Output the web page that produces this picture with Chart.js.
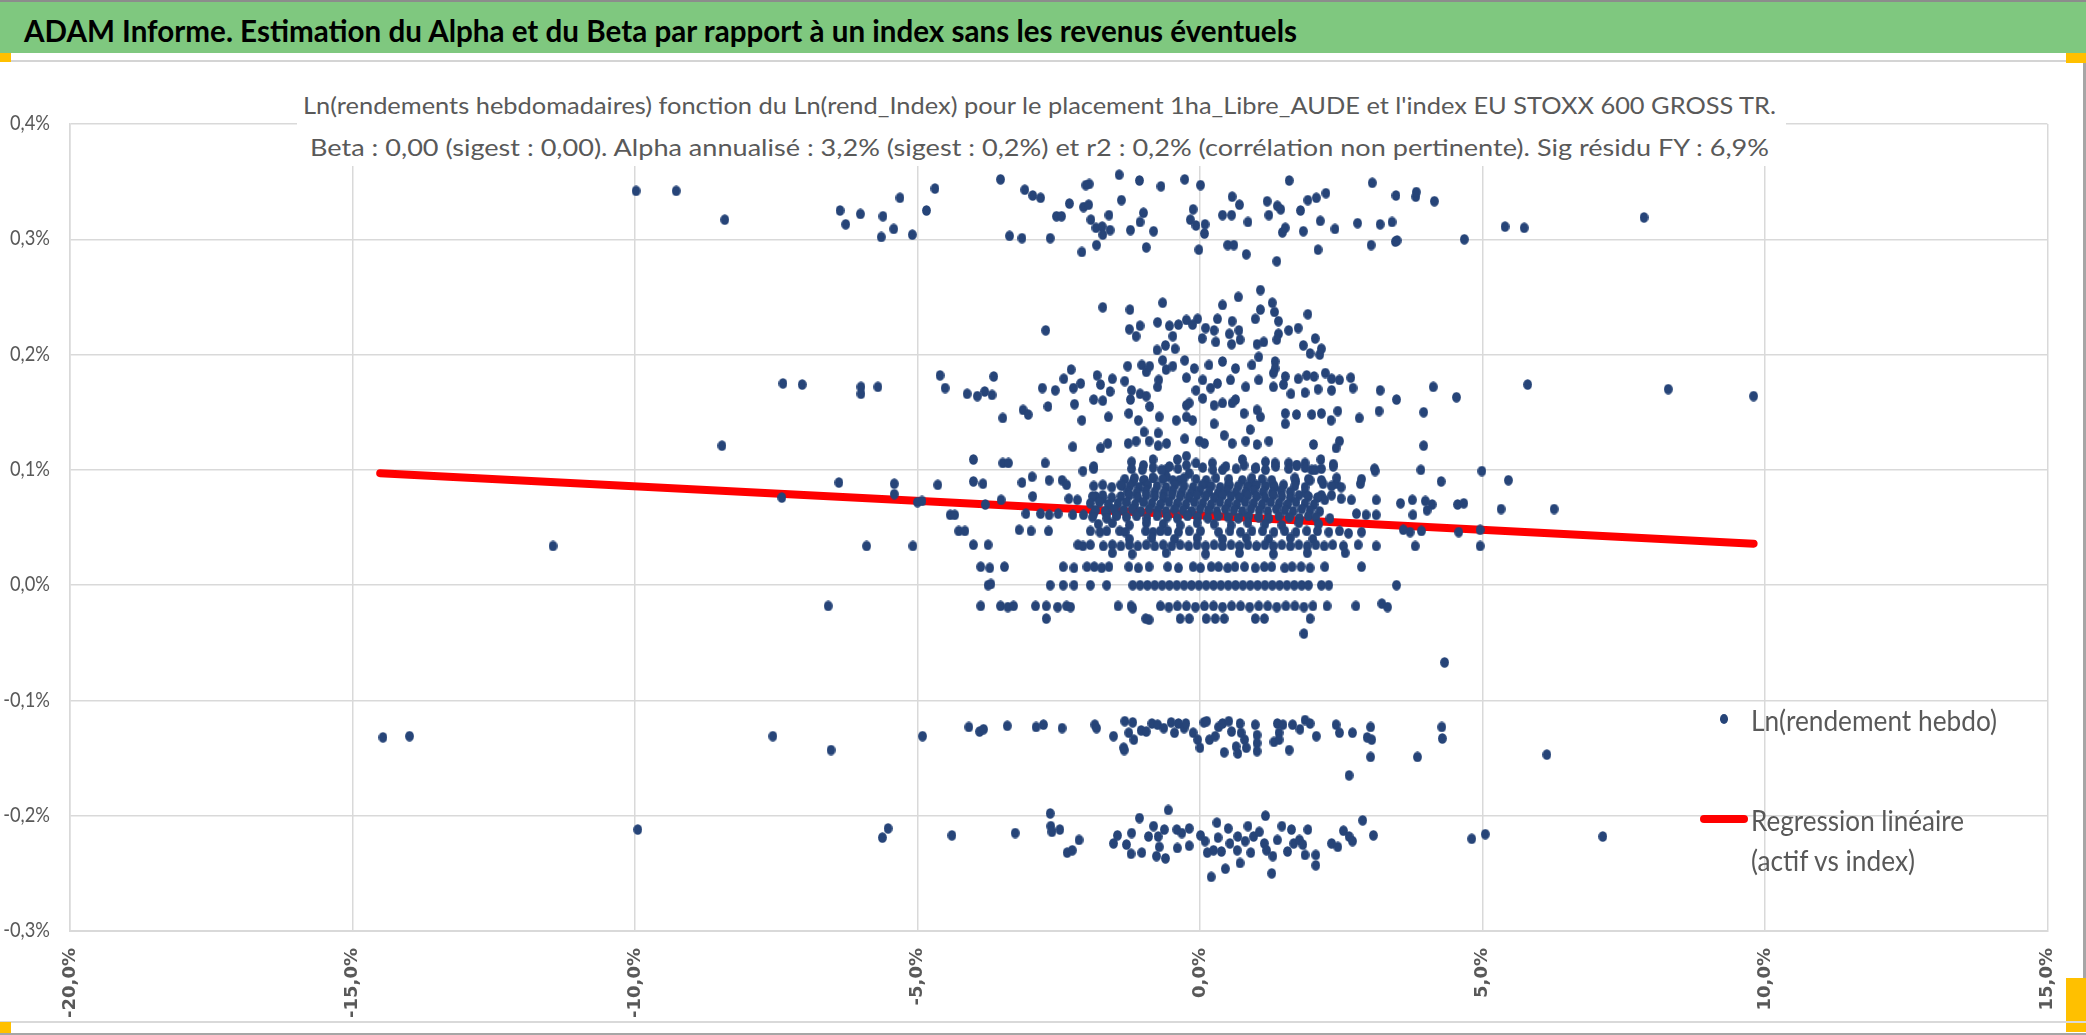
<!DOCTYPE html>
<html><head><meta charset="utf-8">
<script src="https://cdn.jsdelivr.net/npm/chart.js@4.4.1/dist/chart.umd.min.js"></script>
<style>
html,body{margin:0;padding:0;background:#fff;}
body{width:2086px;height:1035px;position:relative;overflow:hidden;font-family:Lato,'Liberation Sans',sans-serif;}
.abs{position:absolute;}
#cv{position:absolute;left:0;top:0;z-index:1;}
.txt{position:absolute;white-space:nowrap;line-height:1;transform-origin:left top;z-index:3;}
#title{left:24px;top:15px;font-size:31px;font-weight:bold;color:#000;}
.sub{font-size:23px;color:#595959;}
.leg{font-size:29px;color:#595959;}
</style></head>
<body>
<div class="abs" style="left:0;top:0;width:2086px;height:2px;background:#8c8c8c;z-index:2"></div>
<div class="abs" style="left:0;top:2px;width:2086px;height:51px;background:#7fc87f;z-index:2"></div>
<div class="abs" style="left:0;top:60px;width:2086px;height:2px;background:#d4d4d4;z-index:0"></div>
<div class="abs" style="left:0;top:53px;width:11px;height:9px;background:#ffc000;z-index:2"></div>
<div class="abs" style="left:2066px;top:53px;width:20px;height:10px;background:#ffc000;z-index:2"></div>
<div class="abs" style="left:2083px;top:62px;width:3px;height:916px;background:#a6a6a6;z-index:0"></div>
<div class="abs" style="left:2066px;top:978px;width:20px;height:54px;background:#ffc000;z-index:0"></div>
<div class="abs" style="left:0;top:1021px;width:2086px;height:2px;background:#d9d9d9;z-index:0"></div>
<div class="abs" style="left:0;top:1022px;width:11px;height:11px;background:#ffc000;z-index:0"></div>
<div class="abs" style="left:0;top:1033px;width:2086px;height:2px;background:#a6a6a6;z-index:0"></div>
<div id="title" class="txt">ADAM Informe. Estimation du Alpha et du Beta par rapport à un index sans les revenus éventuels</div>
<div class="abs" style="left:297px;top:80px;width:1489px;height:86px;background:#fff;z-index:2"></div>
<div id="sub1" class="txt sub" style="left:303px;top:94px">Ln(rendements hebdomadaires) fonction du Ln(rend_Index) pour le placement 1ha_Libre_AUDE et l'index EU STOXX 600 GROSS TR.</div>
<div id="sub2" class="txt sub" style="left:310px;top:136px">Beta : 0,00 (sigest : 0,00). Alpha annualisé : 3,2% (sigest : 0,2%) et r2 : 0,2% (corrélation non pertinente). Sig résidu FY : 6,9%</div>
<div class="abs" style="left:1719.7px;top:713.8px;width:8.6px;height:10.4px;border-radius:50%;background:#264478;z-index:3"></div>
<div class="abs" style="left:1700px;top:815px;width:48px;height:8px;border-radius:4px;background:#ff0000;z-index:3"></div>
<div id="leg1" class="txt leg" style="left:1751px;top:705px">Ln(rendement hebdo)</div>
<div id="leg2" class="txt leg" style="left:1751px;top:805px">Regression linéaire</div>
<div id="leg3" class="txt leg" style="left:1751px;top:845px">(actif vs index)</div>
<canvas id="cv" width="2086" height="1035"></canvas>
<script>
// ---- data (x = Ln(rend_Index) %, y = Ln(rendement hebdo) %) ----
const topBand = [[-9.98,0.342],[-9.27,0.342],[-8.41,0.317],[-6.37,0.325],[-6.27,0.313],[-6.01,0.322],[-5.61,0.320],[-5.64,0.302],[-5.42,0.309],[-5.31,0.336],[-5.09,0.304],[-4.84,0.325],[-4.69,0.344],
[-3.53,0.352],[-3.10,0.343],[-2.96,0.338],[-2.82,0.336],[-3.37,0.303],[-3.15,0.301],[-2.65,0.301],[-2.31,0.331],[-2.54,0.320],[-2.45,0.320],[-2.02,0.347],[-1.96,0.348],[-2.06,0.328],[-1.97,0.330],[-1.93,0.317],[-1.84,0.310],[-1.73,0.311],[-1.61,0.321],[-1.59,0.308],[-1.72,0.304],[-2.09,0.289],[-1.83,0.295],[-1.43,0.356],[-1.39,0.334],[-1.23,0.308],[-1.07,0.351],[-1.06,0.315],[-1.00,0.323],[-0.82,0.307],[-0.95,0.293],[-0.69,0.346],[-0.27,0.352],[-0.17,0.317],[0.09,0.313],
[0.01,0.347],[-0.12,0.326],[-0.07,0.312],[0.08,0.305],[-0.02,0.291],[0.40,0.321],[0.57,0.337],[0.70,0.330],[0.56,0.321],[0.49,0.295],[0.60,0.295],[0.85,0.315],[0.82,0.287],[1.19,0.333],[1.22,0.321],[1.37,0.329],[1.43,0.326],[1.58,0.351],[1.36,0.281],[1.46,0.306],[1.51,0.310],[1.78,0.325],[1.83,0.307],[1.91,0.334],[2.06,0.336],[2.23,0.340],[2.13,0.316],[2.09,0.291],[2.39,0.309],[2.79,0.314],[3.05,0.349],[3.19,0.313],[3.03,0.295],[3.40,0.315],[3.47,0.338],[3.82,0.337],[3.83,0.341],[3.46,0.298],[3.49,0.299],[4.15,0.333],[4.68,0.300],[5.40,0.311],[5.74,0.310],[7.86,0.319]];

const upperCloud = [[-7.38,0.175],[-7.04,0.174],[-6.00,0.172],[-6.00,0.166],[-5.70,0.172],[-8.46,0.121],
[-1.72,0.241],[-1.24,0.239],[-0.66,0.245],[-2.73,0.221],[-1.25,0.222],[-1.13,0.216],[-1.06,0.225],[-0.75,0.228],[-0.54,0.225],[-0.48,0.216],[-0.38,0.226],[-0.24,0.230],[-0.76,0.204],[-0.61,0.208],[-0.44,0.205],
[-4.60,0.182],[-4.51,0.171],[-4.12,0.166],[-3.94,0.164],[-3.81,0.168],[-3.68,0.165],[-3.65,0.181],[-3.49,0.145],[-3.13,0.152],[-3.04,0.148],[-2.79,0.171],[-2.69,0.155],[-2.56,0.169],[-2.41,0.179],[-2.28,0.187],[-2.24,0.171],[-2.22,0.157],[-2.09,0.143],[-2.11,0.175],[-1.82,0.182],[-1.76,0.174],[-1.88,0.161],[-1.72,0.160],[-1.55,0.179],[-1.59,0.168],[-1.62,0.146],[-1.33,0.177],[-1.28,0.190],[-1.21,0.169],[-1.23,0.161],[-1.06,0.166],[-0.95,0.164],[-1.03,0.191],[-0.95,0.185],[-0.89,0.190],[-0.75,0.172],[-0.73,0.178],[-0.66,0.195],[-0.60,0.187],[-0.48,0.190],[-0.27,0.195],[-0.24,0.180],
[-1.26,0.149],[-1.09,0.143],[-0.89,0.155],[-0.72,0.146],[-0.42,0.143],[-0.24,0.156],[-0.24,0.146],
[-4.01,0.109],[-3.49,0.106],[-3.39,0.106],[-2.74,0.106],[-2.25,0.120],[-1.76,0.119],[-1.63,0.123],[-1.27,0.123],[-1.13,0.125],[-0.99,0.133],[-0.90,0.125],[-0.74,0.132],[-0.59,0.123],[-0.74,0.121],[-0.27,0.127],
[-1.21,0.107],[-1.02,0.100],[-0.83,0.109],[-0.61,0.100],[-0.40,0.109],[-0.24,0.112],[-2.07,0.099],[-1.88,0.101],
[1.07,0.256],[0.68,0.250],[0.40,0.243],[1.28,0.245],[1.32,0.237],[1.07,0.239],[1.91,0.235],[0.98,0.231],[1.39,0.229],[0.31,0.231],[0.57,0.229],[-0.04,0.231],[-0.13,0.226],[0.10,0.223],[0.25,0.221],[0.52,0.218],[0.69,0.221],[1.57,0.221],[1.74,0.223],[1.39,0.218],[0.04,0.214],[0.28,0.211],[0.56,0.209],[0.71,0.213],[1.01,0.209],[1.13,0.211],[1.36,0.213],[2.04,0.214],[1.83,0.208],[1.95,0.201],[2.12,0.200],[2.15,0.205],[1.04,0.198],[0.92,0.191],[0.16,0.191],[0.40,0.194],[0.63,0.188],[1.33,0.194],[1.33,0.188],[-0.10,0.188],[0.05,0.178],[0.31,0.175],[-0.07,0.169],[0.19,0.171],[0.54,0.178],[0.81,0.172],[1.04,0.178],[1.30,0.184],[1.51,0.181],[1.74,0.179],[1.89,0.182],[2.02,0.181],[2.22,0.184],[2.33,0.179],[2.47,0.178],[2.67,0.180],[1.30,0.172],[1.48,0.174],[1.61,0.166],[1.86,0.167],[2.09,0.170],[2.33,0.169],[2.71,0.171],[3.19,0.169],[3.48,0.161],[4.13,0.172],[4.54,0.163],
[-0.19,0.158],[0.05,0.162],[0.25,0.156],[0.40,0.158],[0.63,0.161],[0.78,0.149],[1.01,0.152],[1.07,0.146],[1.51,0.149],[1.71,0.148],[1.98,0.148],[2.15,0.149],[2.44,0.151],[2.82,0.145],[3.17,0.151],[3.96,0.150],[-0.13,0.143],[0.25,0.140],[0.57,0.158],[0.89,0.135],[1.51,0.140],[2.32,0.143],
[-0.01,0.125],[0.08,0.123],[0.43,0.130],[0.57,0.123],[0.81,0.125],[1.01,0.122],[1.22,0.125],[2.01,0.122],[2.47,0.125],[2.41,0.119],[3.96,0.121],
[-0.07,0.106],[0.22,0.106],[0.40,0.100],[0.75,0.109],[0.98,0.101],[1.16,0.107],[1.33,0.106],[1.57,0.106],[1.71,0.104],[1.86,0.106],[1.98,0.100],[2.14,0.109],[2.36,0.105],[2.15,0.101],[3.10,0.099],[3.91,0.100],[4.99,0.099],
[5.80,0.174],[8.29,0.170],[9.80,0.164]];

const midBand = [[-6.39,0.089],[-7.40,0.076],[-5.41,0.088],[-5.41,0.079],[-5.00,0.072],
[-4.64,0.087],[-4.01,0.090],[-3.84,0.088],[-3.15,0.089],[-2.97,0.094],[-2.67,0.091],[-2.44,0.091],[-2.36,0.087],[-1.38,0.086],[-1.18,0.090],[-1.00,0.091],[-0.83,0.093],[-0.59,0.094],[-0.36,0.091],[-0.19,0.097],
[-4.92,0.073],[-3.52,0.074],[-3.80,0.070],[-2.96,0.077],[-2.32,0.075],[-2.17,0.074],[-1.85,0.077],[-1.72,0.075],
[-4.42,0.061],[-4.34,0.061],[-3.08,0.062],[-2.82,0.062],[-2.67,0.061],[-2.51,0.062],[-2.25,0.061],[-2.06,0.061],[-1.88,0.062],[-1.65,0.062],[-1.47,0.061],
[0.10,0.088],[0.50,0.087],[0.90,0.089],[1.30,0.087],[1.70,0.090],[2.18,0.088],[1.95,0.091],[2.41,0.088],[2.84,0.088],[4.27,0.090],[5.46,0.091],
[1.86,0.080],[2.15,0.078],[2.33,0.078],[2.50,0.075],[2.68,0.074],[2.21,0.074],[3.12,0.074],[3.55,0.071],[3.76,0.074],[3.99,0.073],[4.11,0.070],[4.56,0.070],[4.67,0.071],[2.77,0.062],[2.94,0.061],[3.12,0.061],[3.77,0.061],[4.02,0.065],[5.33,0.066],[6.27,0.066]];

const denseCore = [[-1.88,0.103],[-1.21,0.101],[-1.00,0.104],[-0.83,0.102],[-0.68,0.100],[-0.54,0.103],[-0.39,0.101],[-0.24,0.104],[0.05,0.102],[0.23,0.100],[0.46,0.103],[0.64,0.101],[0.78,0.104],[0.99,0.102],[1.16,0.100],[1.34,0.103],[1.57,0.101],[1.72,0.104],[1.86,0.102],[2.04,0.100],[2.36,0.103],[3.09,0.101],
[-1.33,0.092],[-1.16,0.093],[-0.98,0.091],[-0.83,0.093],[-0.66,0.092],[-0.48,0.091],[-0.28,0.093],[-0.07,0.092],[0.11,0.091],[0.28,0.093],[0.51,0.092],[0.75,0.091],[0.92,0.093],[1.10,0.092],[1.27,0.091],[1.68,0.093],[1.92,0.092],[2.15,0.091],[2.42,0.093],[2.86,0.092],
[-1.88,0.086],[-1.72,0.087],[-1.56,0.085],[-1.40,0.087],[-1.24,0.086],[-1.08,0.085],[-0.92,0.087],[-0.76,0.086],[-0.60,0.085],[-0.44,0.087],[-0.28,0.086],[-0.12,0.085],[0.04,0.087],[0.20,0.086],[0.36,0.085],[0.52,0.087],[0.68,0.086],[0.84,0.085],[1.00,0.087],[1.16,0.086],[1.32,0.085],[1.48,0.087],[1.68,0.086],[1.86,0.085],[2.33,0.086],[2.50,0.085],
[-1.28,0.081],[-1.12,0.080],[-0.96,0.082],[-0.80,0.081],[-0.64,0.080],[-0.48,0.082],[-0.32,0.081],[-0.16,0.080],[0.00,0.082],[0.16,0.081],[0.32,0.080],[0.48,0.082],[0.64,0.081],[0.80,0.080],[0.96,0.082],[1.12,0.081],[1.28,0.080],[1.44,0.082],[1.60,0.081],
[-1.90,0.077],[-1.72,0.078],[-1.56,0.076],[-1.40,0.077],[-1.25,0.078],[-1.10,0.076],[-0.95,0.078],[-0.80,0.077],[-0.65,0.076],[-0.50,0.078],[-0.35,0.077],[-0.20,0.076],[-0.05,0.078],[0.10,0.077],[0.25,0.076],[0.40,0.078],[0.55,0.077],[0.70,0.076],[0.85,0.078],[1.00,0.077],[1.15,0.076],[1.30,0.078],[1.45,0.077],[1.60,0.076],[1.75,0.078],[1.92,0.077],[2.08,0.076],
[-1.94,0.071],[-1.78,0.072],[-1.62,0.070],[-1.45,0.071],[-1.30,0.072],[-1.15,0.070],[-1.00,0.072],[-0.85,0.071],[-0.70,0.070],[-0.55,0.072],[-0.40,0.071],[-0.25,0.070],[-0.10,0.072],[0.05,0.071],[0.20,0.070],[0.35,0.072],[0.50,0.071],[0.65,0.070],[0.80,0.072],[0.95,0.071],[1.10,0.070],[1.25,0.072],[1.40,0.071],[1.55,0.070],[1.70,0.072],[1.86,0.071],[2.02,0.070],
[-1.85,0.065],[-1.68,0.064],[-1.52,0.066],[-1.35,0.065],[-1.20,0.066],[-1.05,0.064],[-0.90,0.066],[-0.75,0.065],[-0.60,0.064],[-0.45,0.066],[-0.30,0.065],[-0.15,0.064],[0.00,0.066],[0.15,0.065],[0.30,0.064],[0.45,0.066],[0.60,0.065],[0.75,0.064],[0.90,0.066],[1.05,0.065],[1.20,0.064],[1.35,0.066],[1.50,0.065],[1.65,0.064],[1.80,0.066],[1.95,0.065],[2.12,0.064],
[-1.90,0.059],[-1.65,0.058],[-1.48,0.060],[-1.30,0.059],[-1.12,0.060],[-0.94,0.058],[-0.76,0.060],[-0.58,0.059],[-0.40,0.058],[-0.22,0.060],[-0.04,0.059],[0.14,0.058],[0.32,0.060],[0.50,0.059],[0.68,0.058],[0.86,0.060],[1.04,0.059],[1.22,0.058],[1.40,0.060],[1.58,0.059],[1.76,0.058],[1.92,0.060],[2.05,0.059],[2.30,0.058],
[-1.80,0.053],[-1.55,0.054],[-1.25,0.052],[-0.95,0.054],[-0.65,0.053],[-0.35,0.052],[-0.05,0.054],[0.25,0.053],[0.55,0.052],[0.85,0.054],[1.15,0.053],[1.45,0.052],[1.75,0.054],[2.10,0.053]];

const lowRows = [[-4.27,0.047],[-4.16,0.047],[-3.20,0.048],[-2.99,0.047],[-2.68,0.047],[-1.94,0.047],[-1.77,0.046],[-1.65,0.047],[-1.42,0.047],[-1.32,0.046],[-0.96,0.047],[-0.83,0.046],[-0.70,0.047],[-0.57,0.047],[-0.38,0.046],[-0.19,0.047],[0.01,0.047],[0.33,0.046],[0.53,0.047],[0.72,0.046],[0.92,0.047],[1.11,0.047],[1.31,0.046],[1.50,0.047],[1.70,0.046],[1.89,0.047],[2.08,0.047],[2.28,0.046],[2.47,0.047],[2.63,0.045],[2.86,0.046],[3.60,0.048],[3.72,0.046],[3.92,0.047],[4.58,0.046],[4.96,0.048],
[-1.25,0.040],[-0.85,0.041],[-0.45,0.040],[-0.05,0.041],[0.40,0.040],[0.82,0.041],[1.22,0.040],[1.60,0.041],[2.00,0.040],
[-4.01,0.035],[-3.75,0.035],[-2.16,0.035],[-2.07,0.034],[-1.94,0.035],[-1.71,0.034],[-1.55,0.035],[-1.40,0.034],[-1.25,0.035],[-1.10,0.034],[-0.95,0.035],[-0.80,0.034],[-0.65,0.035],[-0.50,0.034],[-0.35,0.035],[-0.20,0.034],[-0.05,0.035],[0.10,0.034],[0.25,0.035],[0.40,0.034],[0.55,0.035],[0.70,0.034],[0.85,0.035],[1.00,0.034],[1.15,0.035],[1.30,0.034],[1.45,0.035],[1.60,0.034],[1.75,0.035],[1.90,0.034],[2.05,0.035],[2.20,0.034],[2.35,0.035],[2.54,0.034],[2.80,0.035],[3.12,0.034],[3.81,0.034],[4.96,0.034],
[-1.55,0.028],[-1.20,0.027],[-0.60,0.028],[0.10,0.027],[0.70,0.028],[1.30,0.027],[1.90,0.028],[2.57,0.028],
[-3.88,0.016],[-3.72,0.015],[-3.46,0.016],[-2.42,0.016],[-2.23,0.015],[-2.00,0.016],[-1.87,0.016],[-1.74,0.015],[-1.61,0.016],[-1.26,0.016],[-1.09,0.015],[-0.90,0.016],[-0.57,0.016],[-0.38,0.015],[-0.12,0.016],[0.01,0.015],[0.20,0.016],[0.33,0.016],[0.49,0.015],[0.62,0.016],[0.79,0.016],[0.98,0.015],[1.14,0.016],[1.27,0.016],[1.50,0.015],[1.63,0.016],[1.79,0.016],[1.95,0.015],[2.21,0.016],[2.86,0.016],
[-3.75,0.000],[-3.70,0.001],[-2.65,0.000],[-2.42,0.000],[-2.23,0.000],[-1.94,0.000],[-1.65,0.000],[-1.19,0.000],[-1.06,0.000],[-0.93,0.000],[-0.80,0.000],[-0.67,0.000],[-0.54,0.000],[-0.41,0.000],[-0.28,0.000],[-0.15,0.000],[-0.02,0.000],[0.11,0.000],[0.24,0.000],[0.37,0.000],[0.50,0.000],[0.63,0.000],[0.76,0.000],[0.89,0.000],[1.02,0.000],[1.15,0.000],[1.28,0.000],[1.41,0.000],[1.54,0.000],[1.67,0.000],[1.80,0.000],[1.92,0.000],[2.15,0.000],[2.28,0.000],[3.48,0.000],
[-3.88,-0.018],[-3.53,-0.018],[-3.40,-0.019],[-3.30,-0.018],[-2.91,-0.018],[-2.72,-0.018],[-2.52,-0.019],[-2.36,-0.018],[-2.29,-0.019],[-1.45,-0.018],[-1.22,-0.018],[-1.19,-0.020],[-0.70,-0.018],[-0.55,-0.019],[-0.40,-0.018],[-0.24,-0.018],[-0.08,-0.019],[0.08,-0.018],[0.24,-0.018],[0.40,-0.019],[0.56,-0.018],[0.72,-0.018],[0.88,-0.019],[1.04,-0.018],[1.20,-0.018],[1.36,-0.019],[1.52,-0.018],[1.68,-0.018],[1.84,-0.019],[2.00,-0.018],[2.25,-0.018],[2.76,-0.018],[3.22,-0.016],[3.32,-0.019],
[-2.72,-0.029],[-0.96,-0.029],[-0.90,-0.030],[-0.35,-0.029],[-0.19,-0.029],[0.11,-0.029],[0.27,-0.029],[0.43,-0.029],[0.98,-0.029],[1.14,-0.029],[1.95,-0.029],
[1.84,-0.042],[4.33,-0.067],[-11.45,0.034],[-5.90,0.034],[-5.08,0.034],[-6.58,-0.018]];

const negBandA = [[-14.46,-0.132],[-13.99,-0.131],[-7.56,-0.131],[-6.53,-0.143],[-4.91,-0.131],
[-4.09,-0.123],[-3.90,-0.127],[-3.83,-0.125],[-3.41,-0.122],[-2.90,-0.123],[-2.77,-0.121],[-2.44,-0.124],[-1.86,-0.121],[-1.83,-0.124],[-1.53,-0.131],[-1.33,-0.118],[-1.19,-0.119],[-1.26,-0.128],[-1.17,-0.134],[-1.35,-0.141],[-1.34,-0.143],[-1.04,-0.126],[-0.95,-0.127],[-0.85,-0.120],[-0.75,-0.121],[-0.64,-0.124],[-0.51,-0.119],[-0.45,-0.128],[-0.38,-0.120],[-0.28,-0.124],[-0.25,-0.120],[-0.12,-0.128],[-0.04,-0.134],[0.00,-0.141],[0.07,-0.119],[0.12,-0.118],[0.17,-0.134],[0.27,-0.131],[0.33,-0.123],[0.40,-0.120],[0.43,-0.145],[0.51,-0.118],[0.56,-0.127],[0.64,-0.140],[0.67,-0.146],[0.71,-0.120],[0.73,-0.128],[0.79,-0.134],[0.82,-0.141],[0.98,-0.121],[1.01,-0.130],[1.01,-0.137],[1.01,-0.144],[1.31,-0.136],[1.37,-0.120],[1.40,-0.128],[1.47,-0.121],[1.40,-0.134],[1.58,-0.143],[1.64,-0.121],[1.77,-0.125],[1.86,-0.117],[1.95,-0.120],[2.06,-0.131],[2.41,-0.121],[2.47,-0.128],[2.70,-0.128],[2.64,-0.165],[2.96,-0.132],[3.02,-0.123],[3.04,-0.134],[3.02,-0.149],[3.85,-0.149],[4.28,-0.123],[4.29,-0.133],[6.14,-0.147]];

const negBandB = [[-9.95,-0.212],[-5.62,-0.219],[-5.52,-0.211],
[-4.39,-0.217],[-3.27,-0.215],[-2.65,-0.198],[-2.64,-0.209],[-2.62,-0.214],[-2.48,-0.212],[-2.35,-0.232],[-2.26,-0.230],[-2.14,-0.221],[-1.53,-0.224],[-1.46,-0.217],[-1.30,-0.225],[-1.22,-0.233],[-1.21,-0.215],[-1.07,-0.202],[-1.03,-0.232],[-0.91,-0.218],[-0.82,-0.209],[-0.77,-0.235],[-0.74,-0.218],[-0.72,-0.227],[-0.63,-0.212],[-0.61,-0.237],[-0.56,-0.195],[-0.41,-0.212],[-0.40,-0.228],[-0.32,-0.215],[-0.19,-0.211],[-0.19,-0.226],[0.01,-0.217],[0.09,-0.222],[0.13,-0.232],[0.20,-0.253],[0.24,-0.230],[0.30,-0.206],[0.32,-0.219],[0.38,-0.231],[0.45,-0.246],[0.50,-0.211],[0.53,-0.224],[0.66,-0.230],[0.67,-0.218],[0.71,-0.241],[0.80,-0.222],[0.85,-0.209],[0.90,-0.232],[0.95,-0.218],[1.05,-0.214],[1.14,-0.224],[1.16,-0.200],[1.18,-0.230],[1.29,-0.235],[1.27,-0.250],[1.37,-0.221],[1.45,-0.209],[1.55,-0.231],[1.62,-0.212],[1.66,-0.224],[1.76,-0.221],[1.82,-0.225],[1.86,-0.234],[1.91,-0.212],[2.05,-0.234],[2.05,-0.243],[2.33,-0.224],[2.44,-0.227],[2.54,-0.213],[2.64,-0.218],[2.70,-0.222],[2.88,-0.204],[3.07,-0.217],[4.81,-0.220],[5.05,-0.216],[7.13,-0.218]];

const regressionX = [-14.51, 9.80];
const regressionY = [0.097, 0.036];

const xTicks = {min:-20, max:15, step:5};
const yTicks = {min:-0.3, max:0.4, step:0.1};

const seriesNames = ['Ln(rendement hebdo)', 'Regression linéaire (actif vs index)'];

// ---- chart ----
const weekly = [].concat(topBand, upperCloud, midBand, denseCore, lowRows, negBandA, negBandB);
const regression = regressionX.map((x,i)=>[x, regressionY[i]]);
const fmt = v => (Math.round(v*10)/10).toFixed(1).replace('.', ',') + '%';

// slightly tall elliptical marker, as in the reference
const dot = document.createElement('canvas');
dot.width = 9; dot.height = 11;
(function(){ const c = dot.getContext('2d'); c.fillStyle = '#264478'; c.beginPath(); c.ellipse(4.5,5.5,4.4,5.3,0,0,Math.PI*2); c.fill(); })();

// y tick labels drawn with the scale's own ticks, horizontally condensed like the original font
const yLabels = {
  id:'yLabels',
  afterDraw(chart){
    const s = chart.scales.y, ctx = chart.ctx;
    ctx.save();
    ctx.font = '22px Lato, "Liberation Sans", sans-serif';
    ctx.fillStyle = '#595959';
    ctx.textBaseline = 'middle';
    ctx.textAlign = 'right';
    const sx = 40 / ctx.measureText('0,4%').width;
    s.ticks.forEach(t => {
      const y = s.getPixelForValue(t.value);
      ctx.save(); ctx.translate(50, y - 1); ctx.scale(sx, 1);
      ctx.fillText(fmt(t.value), 0, 0);
      ctx.restore();
    });
    ctx.restore();
  }
};

new Chart(document.getElementById('cv'), {
  type: 'scatter',
  data: { datasets: [
    { label: seriesNames[0], data: weekly, pointStyle: dot, backgroundColor:'#264478', borderColor:'#264478', pointRadius:5, pointBorderWidth:0, pointHoverRadius:5, order:0 },
    { label: seriesNames[1], data: regression, showLine:true, borderColor:'#ff0000', backgroundColor:'#ff0000', borderWidth:8, borderCapStyle:'round', pointRadius:0, order:1 }
  ]},
  options: {
    responsive:false, animation:false, devicePixelRatio:1,
    layout:{ padding:{ top:124, right:19, bottom:0, left:0 } },
    plugins:{ legend:{display:false}, tooltip:{enabled:false} },
    scales:{
      x:{ type:'linear', min:xTicks.min, max:xTicks.max,
          ticks:{ stepSize:xTicks.step, minRotation:90, maxRotation:90, padding:17, color:'#595959',
                  font:{ family:"'DejaVu Sans',sans-serif", weight:'bold', size:18 }, callback:v=>fmt(v) },
          grid:{ color:'#d9d9d9', lineWidth:1.5, drawTicks:false },
          border:{ color:'#d9d9d9', width:2 },
          afterFit(s){ s.height = 104; } },
      y:{ type:'linear', min:yTicks.min, max:yTicks.max,
          ticks:{ stepSize:yTicks.step, display:false },
          grid:{ color:'#d9d9d9', lineWidth:1.5, drawTicks:false },
          border:{ color:'#d9d9d9', width:1.5 },
          afterFit(s){ s.width = 70; } }
    }
  },
  plugins:[yLabels]
});

// ---- fit text widths to the reference ----
function fit(id, w){
  const el = document.getElementById(id);
  el.style.transform = 'none';
  const r = el.getBoundingClientRect().width;
  if (r > 0) el.style.transform = 'scaleX(' + (w / r) + ')';
}
fit('title', 1273); fit('sub1', 1473); fit('sub2', 1459);
fit('leg1', 246); fit('leg2', 213); fit('leg3', 164);
</script>
</body></html>
